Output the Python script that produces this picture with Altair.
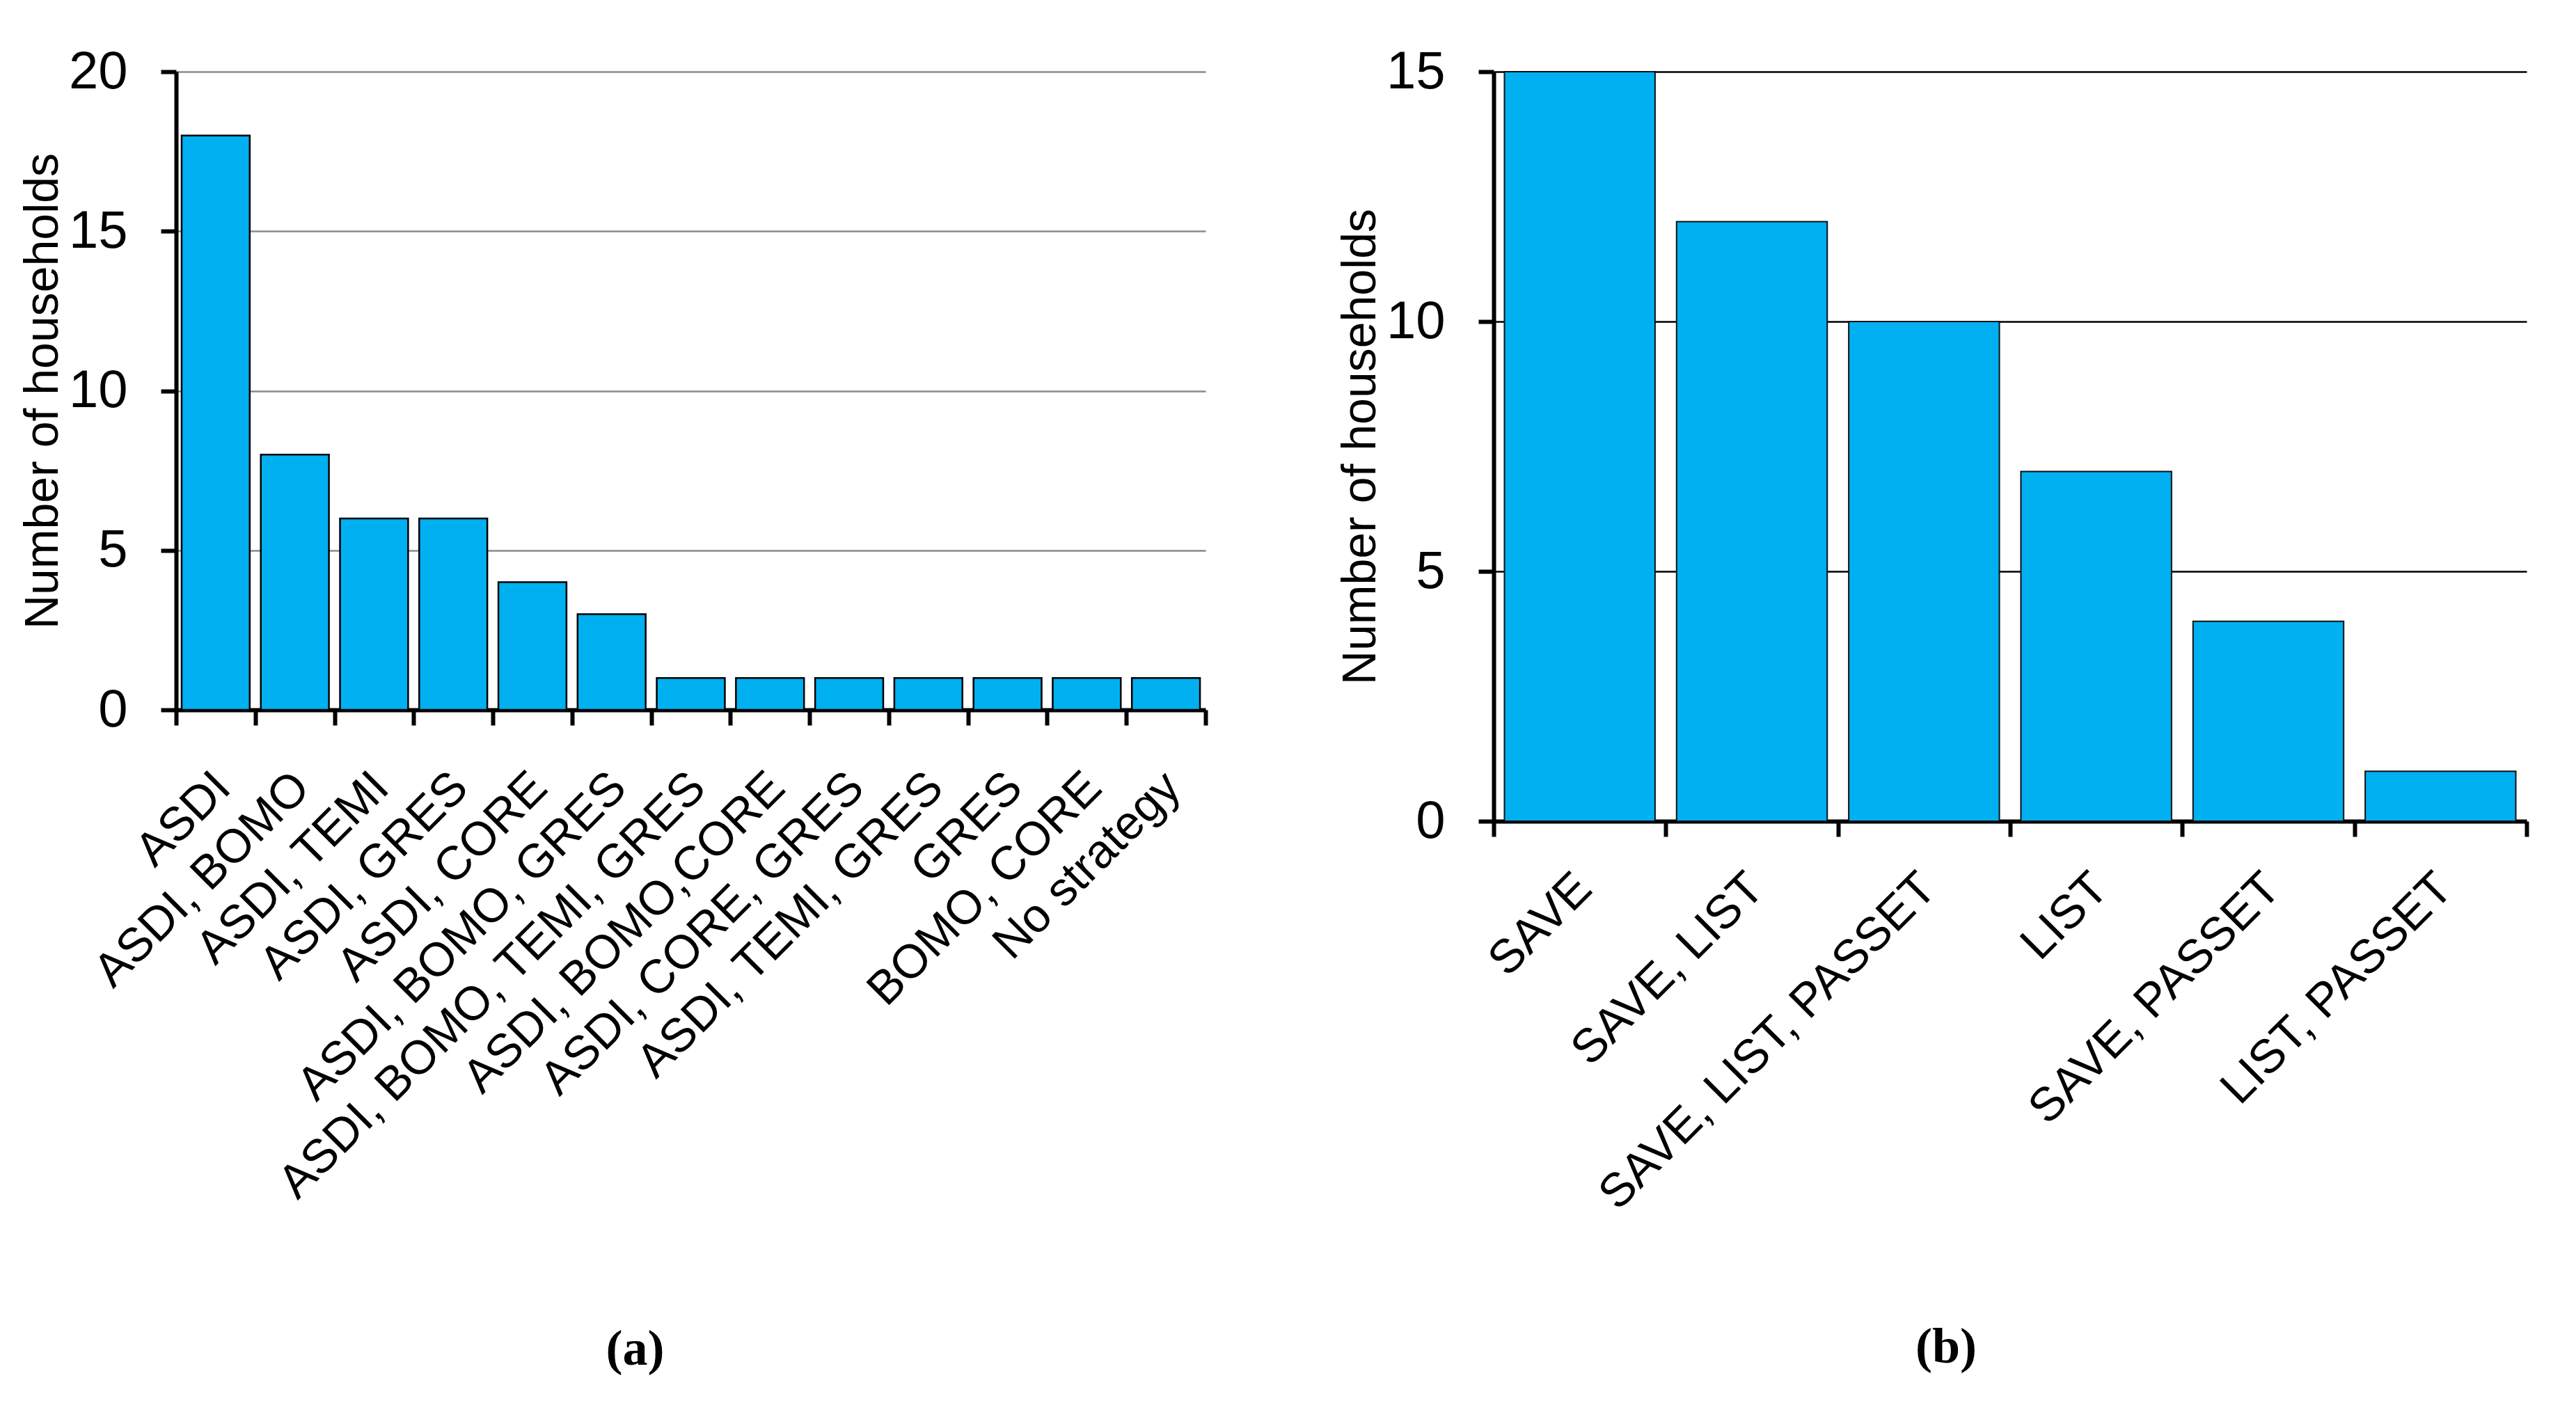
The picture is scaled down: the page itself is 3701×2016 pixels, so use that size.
import altair as alt
import pandas as pd

# ---- data ----
cats_a = ["ASDI", "ASDI, BOMO", "ASDI, TEMI", "ASDI, GRES", "ASDI, CORE",
          "ASDI, BOMO, GRES", "ASDI, BOMO, TEMI, GRES", "ASDI, BOMO,CORE",
          "ASDI, CORE, GRES", "ASDI, TEMI, GRES", "GRES", "BOMO, CORE", "No strategy"]
vals_a = [18, 8, 6, 6, 4, 3, 1, 1, 1, 1, 1, 1, 1]

cats_b = ["SAVE", "SAVE, LIST", "SAVE, LIST, PASSET", "LIST", "SAVE, PASSET", "LIST, PASSET"]
vals_b = [15, 12, 10, 7, 4, 1]

ticks_a = [0, 5, 10, 15, 20]
ticks_b = [0, 5, 10, 15]

df_a = pd.DataFrame({"strategy": cats_a, "households": vals_a})
df_b = pd.DataFrame({"strategy": cats_b, "households": vals_b})

FILL = "#00B0F0"
SANS = "Liberation Sans"
SERIF = "Liberation Serif"


def x_axis(label_padding, label_offset):
    return alt.Axis(
        labelAngle=-45, labelAlign="right", labelBaseline="top",
        labelFont=SANS, labelFontSize=68, labelColor="black",
        labelPadding=label_padding, labelOffset=label_offset,
        tickBand="extent", tickSize=22, tickWidth=6, tickColor="black",
        domainColor="black", domainWidth=6, grid=False, labelOverlap=False,
        labelLimit=2000,
    )


def y_axis(values, grid_color):
    return alt.Axis(
        values=values, title="Number of households",
        titleFont=SANS, titleFontSize=68, titleFontWeight="normal",
        titleColor="black", titlePadding=2,
        labelFont=SANS, labelFontSize=76, labelColor="black", labelPadding=48,
        tickSize=22, tickWidth=6, tickColor="black",
        domainColor="black", domainWidth=6,
        grid=True, gridColor=grid_color, gridWidth=2.5,
    )


chart_a = alt.Chart(df_a).mark_bar(
    color=FILL, stroke="black", strokeWidth=2.5, width=alt.RelativeBandSize(0.86)
).encode(
    x=alt.X("strategy:N", sort=cats_a, title=None,
            scale=alt.Scale(paddingInner=0, paddingOuter=0),
            axis=x_axis(55, -14)),
    y=alt.Y("households:Q", scale=alt.Scale(domain=[0, 20], nice=False),
            axis=y_axis(ticks_a, "#8a8a8a")),
).properties(
    width=1479, height=917,
    title=alt.TitleParams("(a)", orient="bottom", font=SERIF, fontSize=72,
                          fontWeight="bold", color="black", frame="group",
                          anchor="middle", dx=-80, offset=168),
)

chart_b = alt.Chart(df_b).mark_bar(
    color=FILL, stroke="#111111", strokeWidth=2, width=alt.RelativeBandSize(0.875)
).encode(
    x=alt.X("strategy:N", sort=cats_b, title=None,
            scale=alt.Scale(paddingInner=0, paddingOuter=0),
            axis=x_axis(40, -18)),
    y=alt.Y("households:Q", scale=alt.Scale(domain=[0, 15], nice=False),
            axis=y_axis(ticks_b, "black")),
).properties(
    width=1484, height=1077,
    title=alt.TitleParams("(b)", orient="bottom", font=SERIF, fontSize=72,
                          fontWeight="bold", color="black", frame="group",
                          anchor="middle", dx=-92, offset=150),
)

chart = alt.hconcat(chart_a, chart_b, spacing=186).configure_view(
    stroke=None
).properties(
    padding={"left": 20, "top": 57, "right": 5, "bottom": 5},
    background="white",
)

chart.save("out.html", embed_options={"renderer": "svg", "actions": False})
